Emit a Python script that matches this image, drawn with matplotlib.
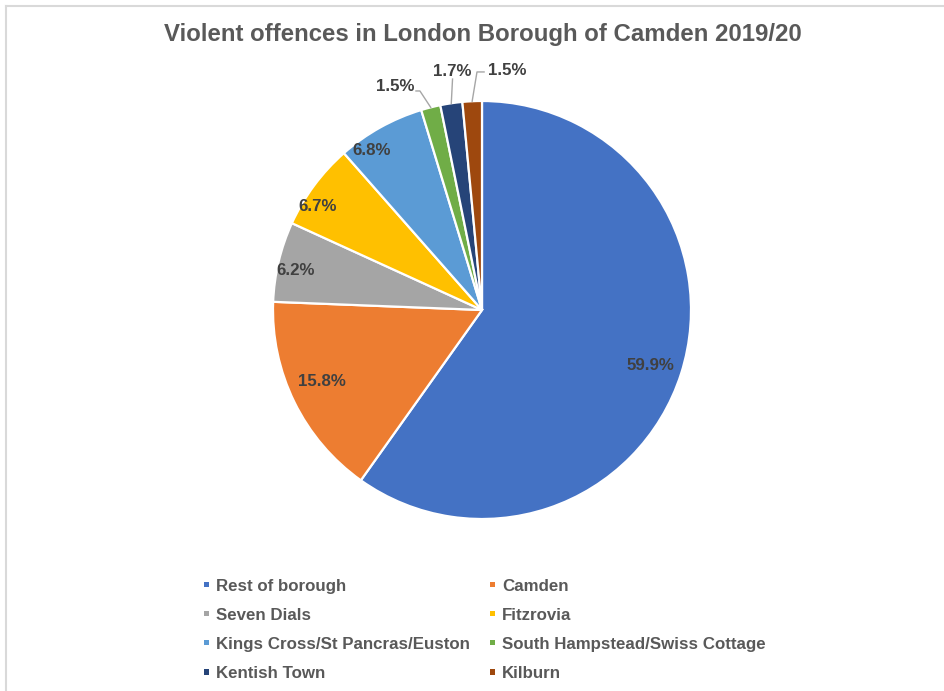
import numpy as np
import matplotlib
matplotlib.use("Agg")
import matplotlib.pyplot as plt
from matplotlib.lines import Line2D

TITLE = "Violent offences in London Borough of Camden 2019/20"

areas = ["Rest of borough", "Camden", "Seven Dials", "Fitzrovia",
         "Kings Cross/St Pancras/Euston", "South Hampstead/Swiss Cottage",
         "Kentish Town", "Kilburn"]
shares = [59.9, 15.8, 6.2, 6.7, 6.8, 1.5, 1.7, 1.5]
colours = ["#4472C4", "#ED7D31", "#A5A5A5", "#FFC000",
           "#5B9BD5", "#70AD47", "#264478", "#9E480E"]

# inside labels: radial fraction and angle nudge (deg) per slice
inside_r = [0.85, 0.84, 0.91, 0.93, 0.93]
inside_nudge = [-0.5, -2.0, 1.5, 4.5, 5.5]

# outside labels (small slices): elbow point, line end x, text pos, alignment
outside = [
    ((-0.297, 1.048), -0.316, (-0.325, 1.067), "right"),
    ((-0.141, 1.105), -0.141, (-0.144, 1.140), "center"),
    ((-0.024, 1.139), 0.010, (0.029, 1.148), "left"),
]

plt.rcParams["font.family"] = ["Liberation Sans", "DejaVu Sans"]

W, H = 944, 691
fig = plt.figure(figsize=(W / 100, H / 100), dpi=100)

# pie centre (482, 310) px from top-left, radius 209 px
cx, cy, R, s = 482, 310, 209, 280
ax = fig.add_axes([(cx - s) / W, (H - cy - s) / H, 2 * s / W, 2 * s / H])
lim = s / R

wedges, _ = ax.pie(shares, colors=colours, startangle=90, counterclock=False,
                   radius=1.0, wedgeprops=dict(edgecolor="white", linewidth=1.6))
ax.set_xlim(-lim, lim)
ax.set_ylim(-lim, lim)
ax.set_aspect("equal")
ax.axis("off")

label_kw = dict(fontsize=12.2, fontweight="bold", color="#404040")
for i, w in enumerate(wedges):
    mid = np.deg2rad((w.theta1 + w.theta2) / 2)
    txt = f"{shares[i]:.1f}%"
    if i < len(inside_r):
        a = mid + np.deg2rad(inside_nudge[i])
        r = inside_r[i]
        ax.text(r * np.cos(a), r * np.sin(a), txt, ha="center", va="center", **label_kw)
    else:
        (ex, ey), endx, (tx, ty), ha = outside[i - len(inside_r)]
        px, py = np.cos(mid), np.sin(mid)
        ax.add_line(Line2D([px, ex, endx], [py, ey, ey], color="#A6A6A6", lw=1.0))
        ax.text(tx, ty, txt, ha=ha, va="center", **label_kw)

fig.text(483 / W, 1 - 34 / H, TITLE, ha="center", va="center",
         fontsize=17.3, fontweight="bold", color="#595959")

# frame of the chart area
fig.add_artist(Line2D([6 / W, 6 / W], [0, 1 - 6 / H], color="#D9D9D9", lw=1.5))
fig.add_artist(Line2D([6 / W, 1], [1 - 6 / H, 1 - 6 / H], color="#D9D9D9", lw=1.5))

# legend, row-wise order like the original
order = list(range(0, len(areas), 2)) + list(range(1, len(areas), 2))
leg = fig.legend([wedges[i] for i in order], [areas[i] for i in order],
                 ncol=2, loc="upper left", bbox_to_anchor=(204 / W, 1 - 579 / H),
                 frameon=False, handlelength=0.32, handleheight=0.08,
                 handletextpad=0.40, columnspacing=1.18, labelspacing=0.83,
                 borderpad=0, borderaxespad=0,
                 prop=dict(family="Liberation Sans", weight="bold", size=12.2))
for t in leg.get_texts():
    t.set_color("#595959")
for h in leg.legend_handles:
    h.set_edgecolor("none")

fig.savefig("out.png", dpi=100)
